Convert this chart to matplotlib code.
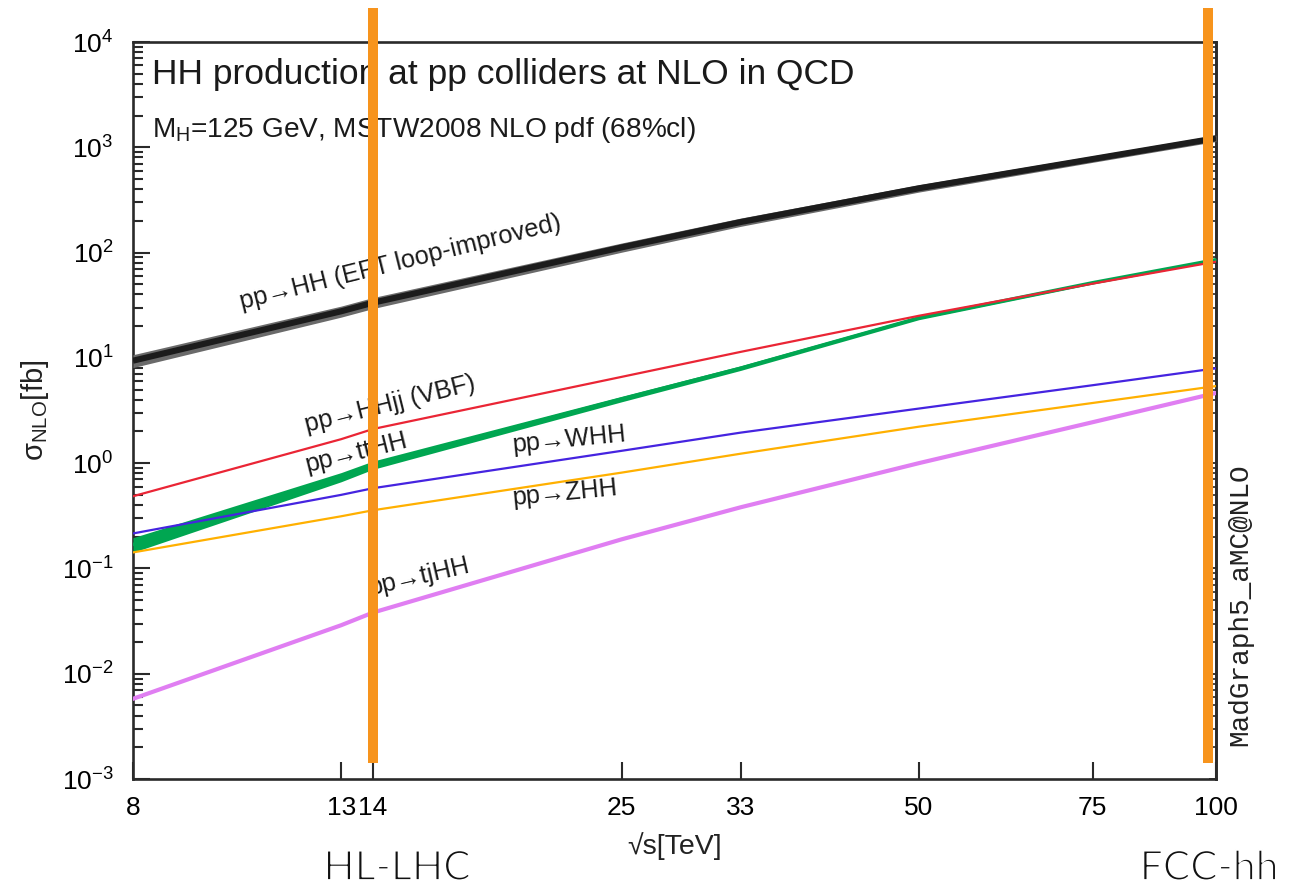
import matplotlib
matplotlib.use("Agg")
import matplotlib.pyplot as plt
import matplotlib.transforms as mtransforms
import matplotlib.patheffects as pe
from matplotlib.ticker import LogLocator, NullFormatter, FixedLocator, FixedFormatter, NullLocator
import numpy as np

plt.rcParams['font.family'] = ['Liberation Sans', 'DejaVu Sans']
plt.rcParams['mathtext.fontset'] = 'custom'
plt.rcParams['mathtext.rm'] = 'Liberation Sans'
plt.rcParams['mathtext.it'] = 'Liberation Sans:italic'
plt.rcParams['mathtext.bf'] = 'Liberation Sans:bold'

# collider energies (TeV)
sqrt_s = [8, 13, 14, 25, 33, 50, 75, 100]
x_tick_labels = ["8", "13", "14", "25", "33", "50", "75", "100"]

# NLO cross sections (fb)
hh_eft = [9.4, 27.7, 33.4, 112, 195, 408, 774, 1220]
hh_eft_relerr = [0.14, 0.12, 0.12, 0.10, 0.09, 0.08, 0.07, 0.07]
hhjj_vbf = [0.485, 1.69, 2.11, 6.6, 11.4, 25.1, 50.7, 82]
tthh = [0.169, 0.74, 0.96, 4.07, 8.0, 24.0, 51.8, 85.7]
tthh_relerr = [0.16, 0.10, 0.09, 0.06, 0.05, 0.04, 0.03, 0.03]
whh = [0.215, 0.50, 0.578, 1.31, 1.95, 3.3, 5.5, 7.96]
zhh = [0.142, 0.313, 0.357, 0.813, 1.23, 2.22, 3.73, 5.4]
tjhh = [0.00578, 0.0289, 0.0381, 0.189, 0.381, 1.0, 2.45, 4.64]

# future collider energies marked on the plot
collider_energies = [14, 100]
collider_names = ["HL-LHC", "FCC-hh"]

fig = plt.figure(figsize=(13.01, 8.88), dpi=100)
ax = fig.add_axes([0.1022, 0.1227, 0.8325, 0.830])
ax.set_xscale('log')
ax.set_yscale('log')
ax.set_xlim(8, 100)
ax.set_ylim(1e-3, 1e4)

x = np.array(sqrt_s, dtype=float)

# gluon fusion band
hh = np.array(hh_eft)
err = np.array(hh_eft_relerr)
ax.fill_between(x, hh * (1 - err), hh * (1 + err), color='#6a6a6a', lw=0, zorder=3)
ax.plot(x, hh, color='#1c1c1c', lw=4.4, zorder=4, solid_capstyle='butt')

# ttHH band
tt = np.array(tthh)
terr = np.array(tthh_relerr)
ax.fill_between(x, tt * (1 - terr), tt * (1 + terr), color='#00a651', lw=0, zorder=3)
ax.plot(x, tt, color='#00a651', lw=2.4, zorder=4)

ax.plot(x, hhjj_vbf, color='#ea2535', lw=1.6, zorder=4)
ax.plot(x, whh, color='#4524e0', lw=1.6, zorder=4)
ax.plot(x, zhh, color='#ffb000', lw=1.6, zorder=4)
ax.plot(x, tjhh, color='#e07ef2', lw=3.0, zorder=4)

# axes styling
for s in ax.spines.values():
    s.set_linewidth(1.9)
    s.set_color('#2a2a2a')

ax.xaxis.set_major_locator(FixedLocator(sqrt_s))
ax.xaxis.set_major_formatter(FixedFormatter(x_tick_labels))
ax.xaxis.set_minor_locator(NullLocator())
ax.tick_params(axis='x', which='major', direction='in', length=12, width=1.5,
               color='#2a2a2a', labelsize=19, pad=12, top=False)

ax.yaxis.set_major_locator(LogLocator(base=10, numticks=20))
ax.yaxis.set_minor_locator(LogLocator(base=10, subs=np.arange(2, 10), numticks=20))
ax.yaxis.set_minor_formatter(NullFormatter())
ax.tick_params(axis='y', which='major', direction='in', length=12, width=1.5,
               color='#2a2a2a', labelsize=19, pad=14, right=False)
ax.tick_params(axis='y', which='minor', direction='in', length=7, width=1.5,
               color='#2a2a2a', right=False)

# short mirrored ticks on the right edge
rax = ax.secondary_yaxis('right')
rax.yaxis.set_major_locator(LogLocator(base=10, numticks=20))
rax.yaxis.set_minor_locator(LogLocator(base=10, subs=np.arange(2, 10), numticks=20))
rax.tick_params(which='major', direction='in', length=5, width=1.3, color='#2a2a2a',
                labelright=False)
rax.tick_params(which='minor', direction='in', length=3, width=1.2, color='#2a2a2a',
                labelright=False)
rax.spines['right'].set_linewidth(1.9)
rax.spines['right'].set_color('#2a2a2a')

ax.set_xlabel(r"√s[TeV]", fontsize=20.5, color='#222222', labelpad=9)
ax.set_ylabel(r"σ$_{\mathregular{NLO}}$[fb]", fontsize=21, color='#222222', labelpad=8)

# header text
ax.text(0.0175, 0.943, "HH production at pp colliders at NLO in QCD",
        transform=ax.transAxes, fontsize=25.5, color='#1a1a1a', va='baseline', ha='left', zorder=6)
ax.text(0.0175, 0.871, r"M$_{\mathregular{H}}$=125 GeV, MSTW2008 NLO pdf (68%cl)",
        transform=ax.transAxes, fontsize=20.2, color='#1a1a1a', va='baseline', ha='left', zorder=6)

# process labels
labels = [
    ("pp→HH (EFT loop-improved)", 10.31, 29.1, 14),
    ("pp→HHjj (VBF)", 12.0, 1.98, 14),
    ("pp→ttHH", 12.0, 0.825, 14),
    ("pp→WHH", 19.4, 1.277, 5.5),
    ("pp→ZHH", 19.4, 0.401, 5.5),
    ("pp→tjHH", 13.9, 0.056, 13),
]
for txt, lx, ly, rot in labels:
    ax.text(lx, ly, txt, fontsize=18.3, color='#1a1a1a', rotation=rot,
            rotation_mode='anchor', ha='left', va='baseline', zorder=6)

fig.text(1240 / 1301, 1 - 605 / 888, "MadGraph5_aMC@NLO", family='Liberation Mono',
         fontsize=20, rotation=90, ha='center', va='center', color='#222222')

# collider markers
blend = mtransforms.blended_transform_factory(ax.transData, ax.transAxes)
shifts = [0, -6 / 72]
for e, sh in zip(collider_energies, shifts):
    tr = blend + mtransforms.ScaledTranslation(sh, 0, fig.dpi_scale_trans)
    ax.plot([e, e], [0.0217, 1.046], color='#f7941d', lw=7.2, transform=tr,
            clip_on=False, zorder=8, solid_capstyle='butt')

# collider names in a thin face (white outline erodes the strokes)
thin = [pe.Normal(), pe.Stroke(linewidth=1.3, foreground='white')]
name_x = [397 / 1301, 1209 / 1301]
for nm, nx in zip(collider_names, name_x):
    fig.text(nx, 1 - 880 / 888, nm, family=['Lato', 'DejaVu Sans'], fontweight='normal',
             fontsize=29.5, ha='center', va='baseline', color='#111111', path_effects=thin)

fig.savefig("out.png", dpi=100)
